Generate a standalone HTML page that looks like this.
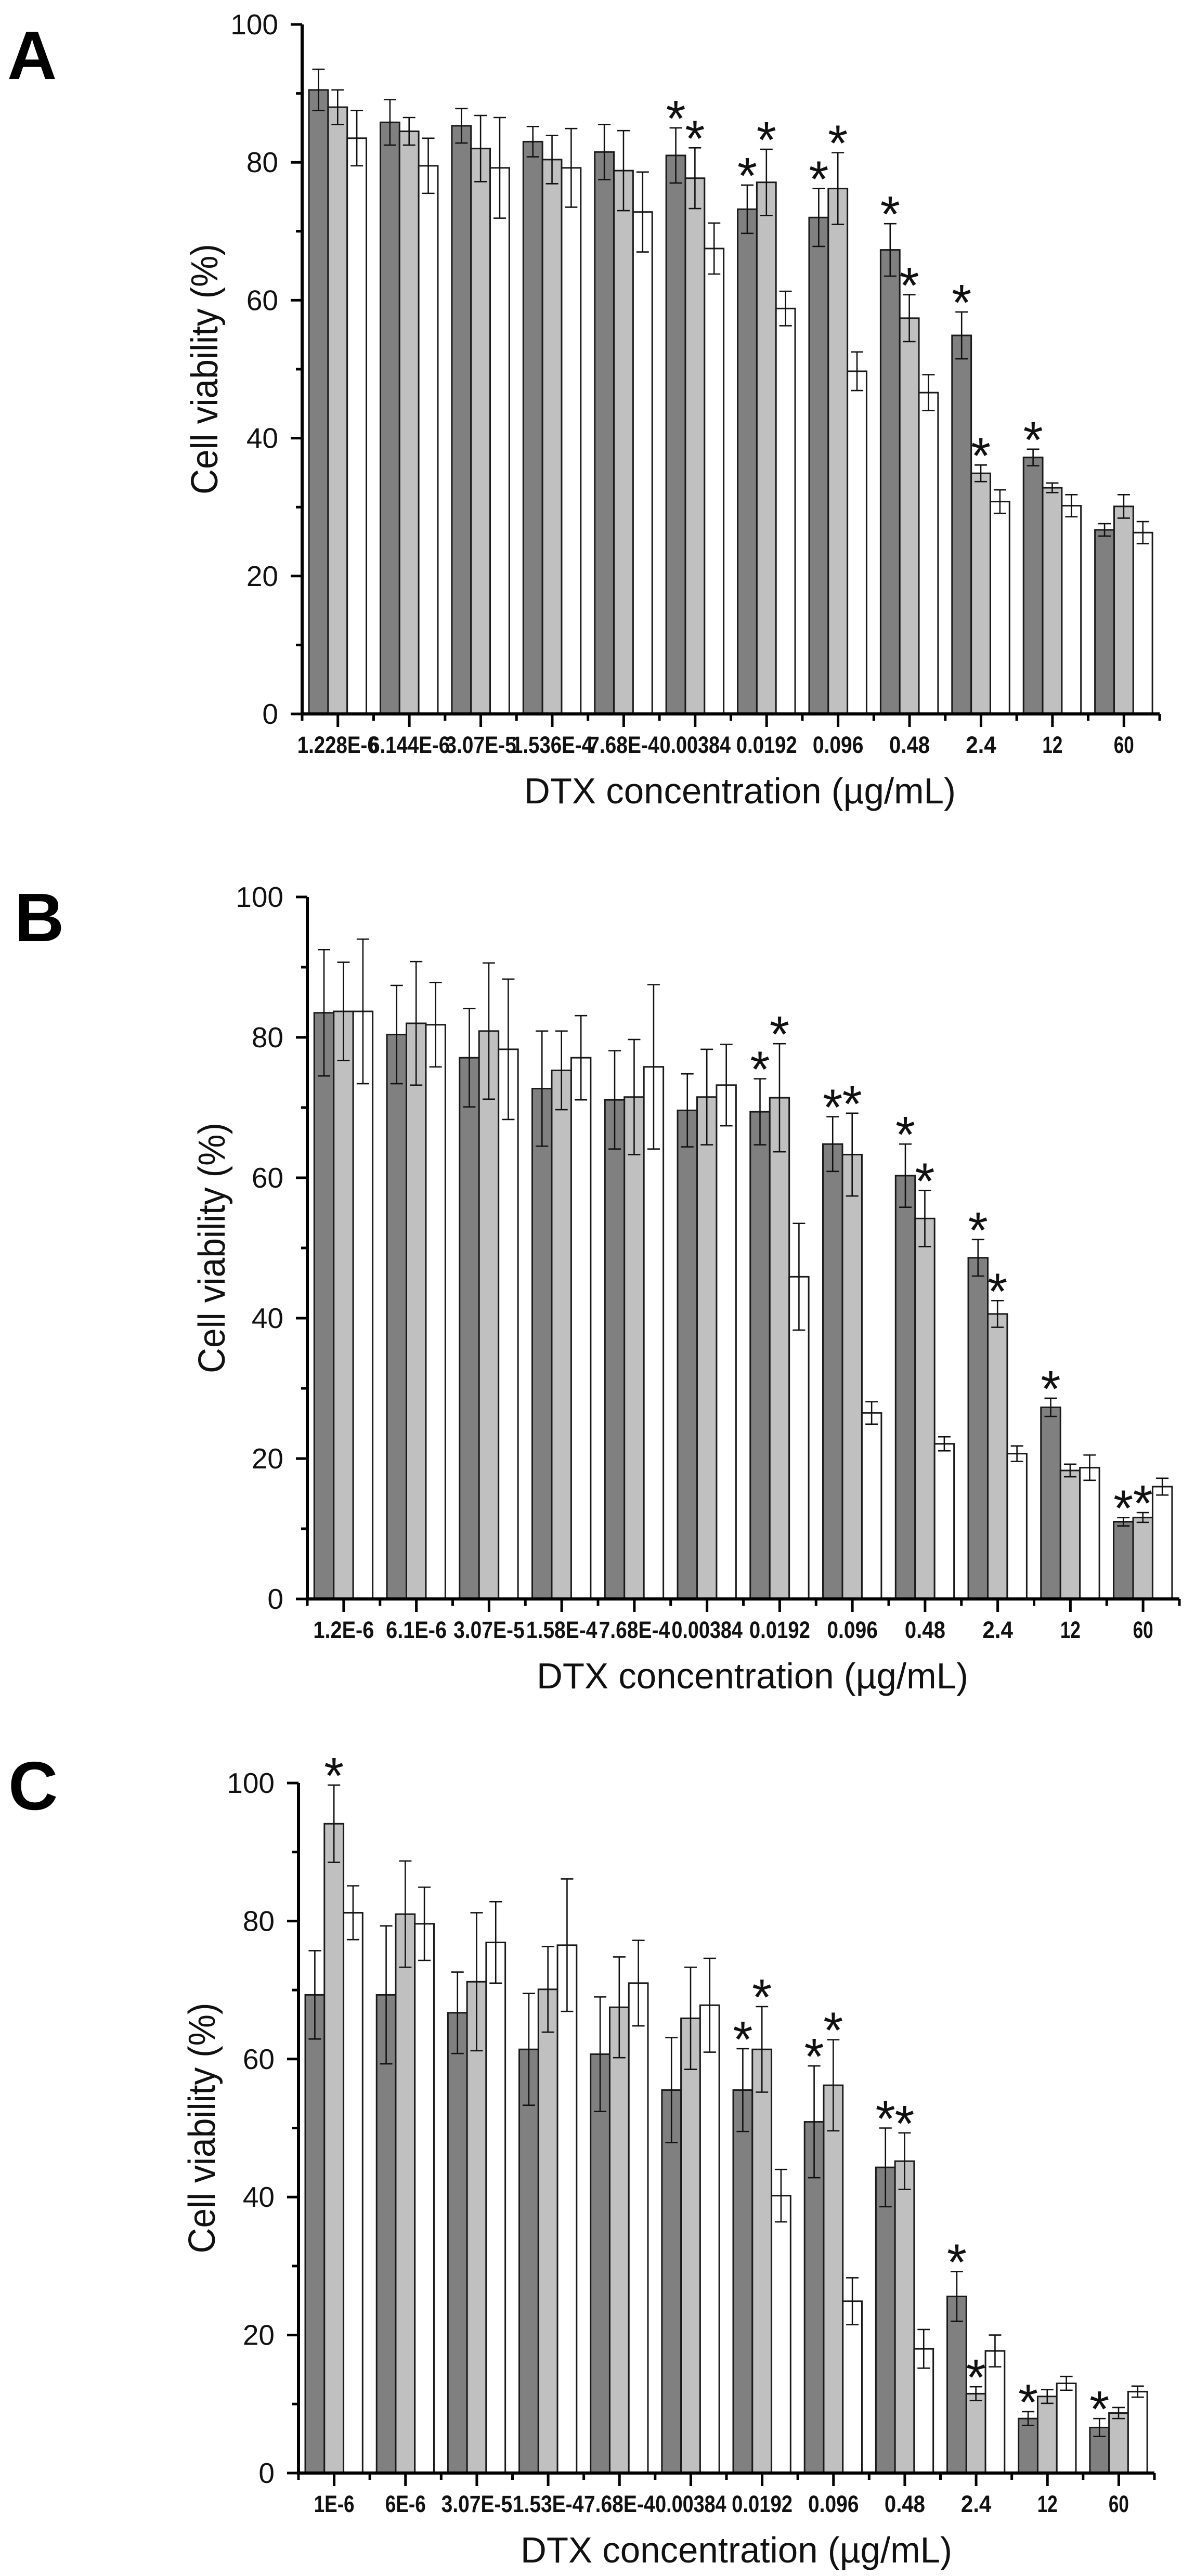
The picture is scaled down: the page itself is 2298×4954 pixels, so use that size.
<!DOCTYPE html>
<html><head><meta charset="utf-8">
<style>
html,body{margin:0;padding:0;background:#fff;}
svg{display:block;}
text{font-family:"Liberation Sans",Arial,sans-serif;}
</style></head>
<body>
<svg id="fig" width="2298" height="4954" viewBox="0 0 2298 4954" xmlns="http://www.w3.org/2000/svg"></svg>
<script>
// ---------- Panel A data ----------
const catsA = ["1.228E-6","6.144E-6","3.07E-5","1.536E-4","7.68E-4","0.00384","0.0192","0.096","0.48","2.4","12","60"];
const darkA = [90.5,85.8,85.3,83.0,81.5,81.0,73.2,72.0,67.3,54.9,37.2,26.7];
const darkErrA = [3.0,3.3,2.5,2.2,4.0,4.0,3.5,4.2,3.8,3.4,1.2,0.9];
const lightA = [88.0,84.5,82.0,80.4,78.8,77.7,77.1,76.2,57.4,34.9,32.8,30.1];
const lightErrA = [2.5,2.0,4.8,3.5,5.8,4.4,4.8,5.2,3.4,1.2,0.7,1.7];
const whiteA = [83.5,79.5,79.2,79.2,72.8,67.5,58.8,49.7,46.6,30.8,30.2,26.3];
const whiteErrA = [4.0,4.0,7.3,5.7,5.8,3.7,2.5,2.8,2.6,1.7,1.6,1.6];
const starDarkA = [0,0,0,0,0,1,1,1,1,1,1,0];
const starLightA = [0,0,0,0,0,1,1,1,1,1,0,0];
const starWhiteA = [0,0,0,0,0,0,0,0,0,0,0,0];

// ---------- Panel B data ----------
const catsB = ["1.2E-6","6.1E-6","3.07E-5","1.58E-4","7.68E-4","0.00384","0.0192","0.096","0.48","2.4","12","60"];
const darkB = [83.5,80.4,77.1,72.7,71.1,69.6,69.4,64.8,60.3,48.6,27.3,11.0];
const darkErrB = [9.0,7.0,7.0,8.2,7.0,5.2,4.7,3.9,4.5,2.6,1.3,0.6];
const lightB = [83.7,82.0,80.9,75.3,71.5,71.5,71.4,63.3,54.2,40.6,18.3,11.6];
const lightErrB = [7.0,8.8,9.7,5.6,8.2,6.8,7.7,5.9,4.0,1.9,0.9,0.7];
const whiteB = [83.7,81.8,78.3,77.1,75.8,73.2,45.9,26.5,22.1,20.7,18.7,16.0];
const whiteErrB = [10.3,6.0,10.0,6.0,11.7,5.8,7.6,1.6,1.0,1.1,1.8,1.2];
const starDarkB = [0,0,0,0,0,0,1,1,1,1,1,1];
const starLightB = [0,0,0,0,0,0,1,1,1,1,0,1];
const starWhiteB = [0,0,0,0,0,0,0,0,0,0,0,0];

// ---------- Panel C data ----------
const catsC = ["1E-6","6E-6","3.07E-5","1.53E-4","7.68E-4","0.00384","0.0192","0.096","0.48","2.4","12","60"];
const darkC = [69.3,69.3,66.7,61.4,60.7,55.5,55.5,50.9,44.3,25.6,7.9,6.6];
const darkErrC = [6.4,10.0,5.9,8.1,8.3,7.6,6.0,8.1,5.7,3.6,1.0,1.3];
const lightC = [94.1,81.0,71.2,70.1,67.5,65.9,61.4,56.2,45.2,11.5,11.1,8.7];
const lightErrC = [5.6,7.7,10.0,6.2,7.3,7.4,6.2,6.6,4.1,1.0,1.0,0.8];
const whiteC = [81.2,79.6,76.9,76.5,71.0,67.8,40.2,24.9,18.0,17.7,13.0,11.8];
const whiteErrC = [3.9,5.3,5.9,9.6,6.2,6.8,3.8,3.4,2.8,2.3,1.0,0.8];
const starDarkC = [0,0,0,0,0,0,1,1,1,1,1,1];
const starLightC = [1,0,0,0,0,0,1,1,1,1,0,0];
const starWhiteC = [0,0,0,0,0,0,0,0,0,0,0,0];

const yTicks = [0,20,40,60,80,100];
const yMinor = [10,30,50,70,90];

const NS = "http://www.w3.org/2000/svg";
const fig = document.getElementById("fig");
function mk(tag, attrs, parent){
  const e = document.createElementNS(NS, tag);
  for (const k in attrs) e.setAttribute(k, attrs[k]);
  (parent||fig).appendChild(e);
  return e;
}

function drawPanel(id, letter, L, cats, series, errs, stars){
  const g = mk("g", {});
  
  
  const yScale = v => L.y0 - (L.y0 - L.y100) * v / 100;
  const pitch = (L.xEnd - L.axX) / cats.length;
  const bw = pitch * 0.268, off = pitch * 0.095;
  const xBar = (i, s) => L.axX + i * pitch + off + s * bw;

  const lt = mk("text", {x:L.lx, y:L.ly, "font-size":132, "font-weight":"bold", fill:"#000"}, g);
  lt.textContent = letter;
  
  

  const fills = ["#808080","#c0c0c0","#ffffff"];
  const sNames = ["dark","light","white"];
  for (let s = 0; s < 3; s++){
    for (let i = 0; i < cats.length; i++){
      const v = series[s][i], e = errs[s][i];
      const x = xBar(i, s), y = yScale(v);
      const r = mk("rect", {x:x, y:y, width:bw, height:L.y0 - y, fill:fills[s], stroke:"#1a1a1a", "stroke-width":3}, g);
      
      
      const cx = x + bw/2, yt = yScale(v + e), yb = yScale(v - e);
      const eb = mk("path", {d:`M${cx-12},${yt}H${cx+12}M${cx},${yt}V${yb}M${cx-12},${yb}H${cx+12}`, stroke:"#111", "stroke-width":2.6, fill:"none"}, g);
      
      
      if (stars[s][i]){
        const st = mk("text", {x:cx, y:yt + 16, "font-size":98, "text-anchor":"middle", fill:"#111"}, g);
        st.textContent = "*";
        
        
      }
    }
  }

  const ax = mk("path", {d:`M${L.axX},${L.y100}V${L.y0}H${L.xEnd}`, stroke:"#000", "stroke-width":6, fill:"none"}, g);
  
  
  let tk = "";
  yTicks.forEach(t => { tk += `M${L.axX-22},${yScale(t)}H${L.axX}`; });
  yMinor.forEach(t => { tk += `M${L.axX-12},${yScale(t)}H${L.axX}`; });
  for (let i = 0; i <= cats.length; i++){
    const xm = L.axX + i * pitch;
    tk += `M${xm},${L.y0}V${L.y0+13}`;
    if (i < cats.length) tk += `M${xm+pitch/2},${L.y0}V${L.y0+25}`;
  }
  const ticks = mk("path", {d:tk, stroke:"#000", "stroke-width":5, fill:"none"}, g);
  
  

  yTicks.forEach(t => {
    const tl = mk("text", {x:L.axX-46, y:yScale(t)+19, "font-size":55, "text-anchor":"end", fill:"#111"}, g);
    tl.textContent = t;
    
    
  });
  cats.forEach((c, i) => {
    const tl = mk("text", {x:L.axX + (i+0.5)*pitch, y:L.y0+75, "font-size":45, "font-weight":"bold", "text-anchor":"middle", fill:"#111", textLength:c.length*19.5, lengthAdjust:"spacingAndGlyphs"}, g);
    tl.textContent = c;
    
    
  });

  const xt = mk("text", {x:L.tx, y:L.y0+172, "font-size":70, "text-anchor":"middle", fill:"#111", textLength:830, lengthAdjust:"spacingAndGlyphs"}, g);
  xt.textContent = "DTX concentration (µg/mL)";
  
  

  const ym = (L.y0 + L.y100) / 2;
  const yt = mk("text", {x:0, y:0, "font-size":72, "text-anchor":"middle", fill:"#111", textLength:482, lengthAdjust:"spacingAndGlyphs", transform:`translate(${L.ylx},${ym}) rotate(-90)`}, g);
  yt.textContent = "Cell viability (%)";
  
  
}

drawPanel("a", "A", {axX:581, y0:1373, y100:47, xEnd:2230, lx:14, ly:152, tx:1423, ylx:418},
  catsA, [darkA, lightA, whiteA], [darkErrA, lightErrA, whiteErrA], [starDarkA, starLightA, starWhiteA]);
drawPanel("b", "B", {axX:591, y0:3075, y100:1725, xEnd:2268, lx:28, ly:1810, tx:1447, ylx:432},
  catsB, [darkB, lightB, whiteB], [darkErrB, lightErrB, whiteErrB], [starDarkB, starLightB, starWhiteB]);
drawPanel("c", "C", {axX:574, y0:4756, y100:3429, xEnd:2220, lx:16, ly:3480, tx:1416, ylx:413},
  catsC, [darkC, lightC, whiteC], [darkErrC, lightErrC, whiteErrC], [starDarkC, starLightC, starWhiteC]);
</script>
</body></html>
